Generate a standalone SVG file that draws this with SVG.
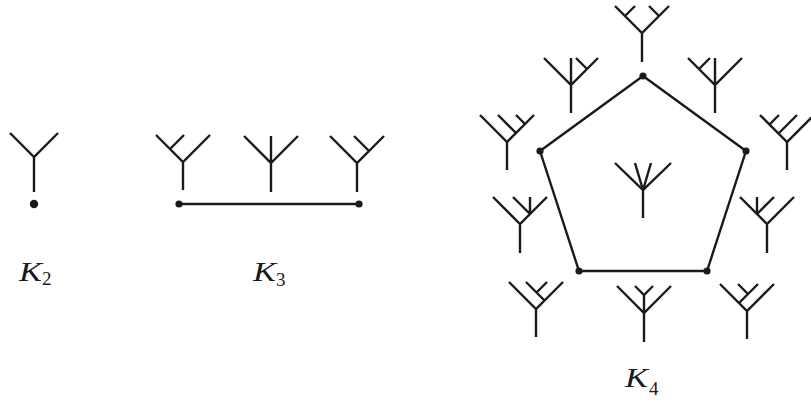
<svg xmlns="http://www.w3.org/2000/svg" width="811" height="403" viewBox="0 0 811 403">
<style>
.t{fill:none;stroke:#1a1a1a;stroke-width:2.4;stroke-linecap:butt;stroke-linejoin:miter}
.e{fill:none;stroke:#1a1a1a;stroke-width:2.4}
.d{fill:#1a1a1a}
.K{font-family:"Liberation Serif","Times New Roman",serif;font-style:italic;font-size:28px;fill:#1a1a1a}
.s{font-family:"Liberation Serif","Times New Roman",serif;font-size:19px;fill:#1a1a1a}
</style>
<rect width="811" height="403" fill="#fff"/>
<g id="connectors">
<line class="e" x1="179" y1="204" x2="359" y2="204"/>
<polygon class="e" points="643,76 746,151 707,271 579,271 540,151"/>
</g>
<g id="k2">
<path class="t" d="M34,192V157M10,133L34,157L58,133"/>
<circle class="d" cx="34" cy="204" r="4.2"/>
</g>
<g id="k3">
<path class="t" d="M183,190V162M156,135L183,162L210,135M170,149L184,135"/>
<path class="t" d="M271,192V163M244,136L271,163L298,136M271,163V136"/>
<path class="t" d="M357,192V163M330,136L357,163L384,136M369,151L354,136"/>
<circle class="d" cx="179" cy="204" r="3.6"/>
<circle class="d" cx="359" cy="204" r="3.6"/>
</g>
<g id="k4">
<g id="pentagon-dots">
<circle class="d" cx="643" cy="76" r="3.6"/>
<circle class="d" cx="746" cy="151" r="3.6"/>
<circle class="d" cx="707" cy="271" r="3.6"/>
<circle class="d" cx="579" cy="271" r="3.6"/>
<circle class="d" cx="540" cy="151" r="3.6"/>
</g>
<path id="t-top" class="t" d="M642,62V33M615,6L642,33L669,6M625,16L635,6M659,16L649,6"/>
<path id="t-ul" class="t" d="M571,113V85M544,58L571,85L598,58M571,85V58M587,69L576,58"/>
<path id="t-ur" class="t" d="M715,113V85M688,58L715,85L742,58M715,85V58M699,69L710,58"/>
<path id="t-fl" class="t" d="M507,170V142M480,115L507,142L534,115M516,133L498,115M525,124L516,115"/>
<path id="t-fr" class="t" d="M787,170V142M760,115L787,142L814,115M778.5,133.5L797,115M769.5,124.5L779,115"/>
<path id="t-center" class="t" d="M643,218V190M615,163L643,190L671,163M635,163L643,190L651,163"/>
<path id="t-ml" class="t" d="M520,253V224M493,197L520,224L547,197M530,214V197M530,214L513,197"/>
<path id="t-mr" class="t" d="M767,253V224M740,197L767,224L794,197M757,214V197M757,214L774,197"/>
<path id="t-bl" class="t" d="M536,337V309M509,282L536,309L563,282M544.5,300.5L526,282M536.5,292.5L547,282"/>
<path id="t-bm" class="t" d="M644,342V313M617,286L644,313L671,286M644,313V295M635,286L644,295L653,286"/>
<path id="t-br" class="t" d="M747,339V311M720,284L747,311L774,284M739,303L758,284M748,294L738,284"/>
</g>
<g id="labels">
<text class="K" x="19" y="281" textLength="23" lengthAdjust="spacingAndGlyphs">K</text><text class="s" x="42" y="285">2</text>
<text class="K" x="253" y="281" textLength="23" lengthAdjust="spacingAndGlyphs">K</text><text class="s" x="276" y="286">3</text>
<text class="K" x="625" y="387" textLength="23" lengthAdjust="spacingAndGlyphs">K</text><text class="s" x="649" y="395">4</text>
</g>
</svg>
